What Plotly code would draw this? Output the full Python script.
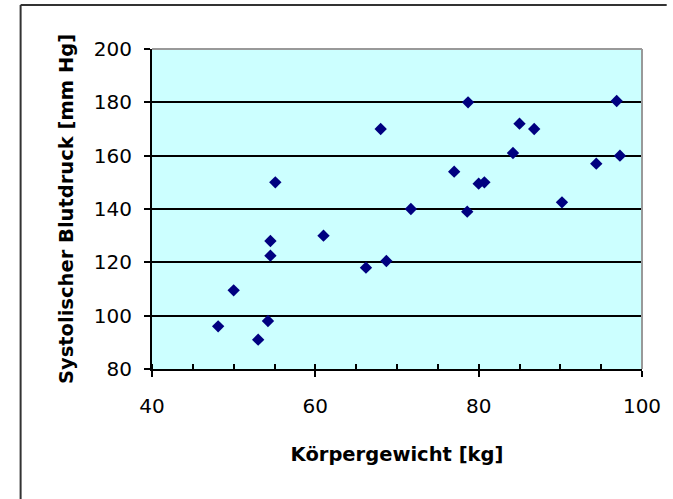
import plotly.graph_objects as go

# Körpergewicht [kg]
weight = [48.1, 50.0, 53.0, 54.2, 54.5, 54.5, 55.1, 61.0, 66.2, 68.0, 68.7, 71.7,
          77.0, 78.7, 78.6, 80.0, 80.7, 84.2, 85.0, 86.8, 90.2, 94.4, 96.9, 97.3]
# Systolischer Blutdruck [mm Hg]
pressure = [96, 109.5, 91, 98, 128, 122.5, 150, 130, 118, 170, 120.5, 140,
            154, 180, 139, 149.5, 150, 161, 172, 170, 142.5, 157, 180.5, 160]

x_title = "Körpergewicht [kg]"
y_title = "Systolischer Blutdruck [mm Hg]"
x_ticks = [40, 60, 80, 100]
y_ticks = [80, 100, 120, 140, 160, 180, 200]

fig = go.Figure()
fig.add_trace(go.Scatter(
    x=weight, y=pressure, mode="markers",
    marker=dict(symbol="diamond", size=9.5, color="#000080", line=dict(width=0)),
    showlegend=False, hoverinfo="x+y",
))

tick_font = dict(family="DejaVu Sans", size=20, color="#000000")
title_font = dict(family="DejaVu Sans", size=19.5, color="#000000")

fig.update_layout(
    width=673, height=499,
    margin=dict(l=152, r=25, t=49, b=130),
    paper_bgcolor="#FFFFFF",
    plot_bgcolor="#CCFFFF",
    xaxis=dict(
        range=[40, 100], tickvals=x_ticks, ticktext=[str(v) for v in x_ticks],
        showgrid=False, zeroline=False,
        showline=True, linecolor="#000000", linewidth=2,
        ticks="outside", ticklen=6, tickwidth=1.5, tickcolor="#000000",
        minor=dict(ticks="inside", dtick=5, tick0=40, ticklen=5, tickwidth=1.5,
                   tickcolor="#000000", showgrid=False),
        tickfont=tick_font, ticklabelstandoff=12,
        title=dict(text="<b>" + x_title + "</b>", font=title_font, standoff=30),
        fixedrange=True,
    ),
    yaxis=dict(
        range=[80, 200], tickvals=y_ticks, ticktext=[str(v) for v in y_ticks],
        showgrid=True, gridcolor="#000000", gridwidth=1.5,
        zeroline=False,
        showline=True, linecolor="#000000", linewidth=2,
        ticks="outside", ticklen=6, tickwidth=1.5, tickcolor="#000000",
        tickfont=tick_font, ticklabelstandoff=8,
        title=dict(text="<b>" + y_title + "</b>", font=title_font, standoff=15),
        fixedrange=True,
    ),
    shapes=[
        # grey top and right border of the plot area
        dict(type="line", xref="x domain", yref="y domain", x0=0, x1=1, y0=1, y1=1,
             line=dict(color="#999999", width=2), layer="above"),
        dict(type="line", xref="x domain", yref="y domain", x0=1, x1=1, y0=0, y1=1,
             line=dict(color="#999999", width=2), layer="above"),
        # chart area frame (only left and top edges are inside the picture)
        dict(type="line", xref="paper", yref="paper",
             x0=-133 / 496, x1=-133 / 496, y0=-130 / 320, y1=1 + 44 / 320,
             line=dict(color="#333333", width=2), layer="below"),
        dict(type="line", xref="paper", yref="paper",
             x0=-133 / 496, x1=1 + 25 / 496, y0=1 + 44 / 320, y1=1 + 44 / 320,
             line=dict(color="#333333", width=2), layer="below"),
    ],
)

fig.write_html("out.html")
